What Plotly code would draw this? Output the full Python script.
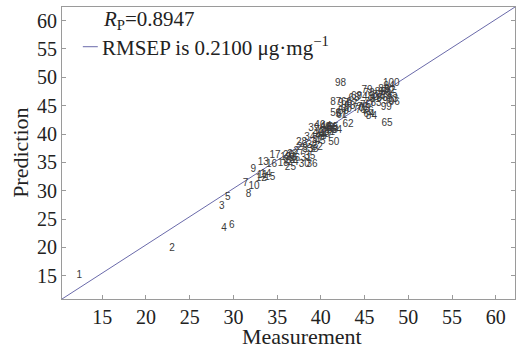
import plotly.graph_objects as go

sample_ids = list(range(1, 101))
measurement = [
    12.37, 22.99, 28.66, 28.92, 29.35, 29.80, 31.40, 31.74, 32.27, 32.35,
    33.30, 33.20, 33.41, 33.70, 34.17, 34.37, 34.75, 35.70, 36.00, 36.30,
    36.60, 36.80, 36.40, 36.83, 36.52, 37.00, 37.50, 37.79, 37.90, 38.10,
    38.30, 39.00, 38.50, 38.74, 38.74, 39.00, 39.60, 39.10, 39.20, 39.70,
    40.00, 40.20, 40.40, 40.60, 39.90, 39.88, 40.70, 41.00, 40.50, 41.48,
    41.00, 39.60, 41.30, 41.80, 41.40, 41.71, 42.30, 41.30, 42.60, 42.90,
    42.40, 43.11, 43.30, 45.50, 47.56, 42.93, 43.60, 43.80, 44.07, 44.30,
    44.60, 44.80, 45.00, 44.70, 45.10, 45.40, 45.60, 45.50, 45.28, 46.00,
    46.20, 46.50, 46.30, 45.78, 46.80, 47.00, 41.70, 47.20, 47.40, 47.70,
    47.50, 47.90, 48.20, 47.80, 48.10, 48.40, 42.60, 42.24, 47.49, 48.06,
]
prediction = [
    15.00, 19.76, 27.22, 23.40, 28.88, 23.82, 31.34, 29.40, 33.75, 30.74,
    32.60, 32.20, 35.04, 32.80, 32.28, 34.56, 36.28, 34.74, 35.80, 36.20,
    35.90, 36.40, 35.30, 35.00, 34.05, 35.70, 37.00, 38.50, 37.60, 34.70,
    35.60, 37.90, 37.30, 39.46, 36.04, 34.70, 38.90, 37.20, 41.00, 40.10,
    39.60, 40.30, 39.90, 41.40, 38.60, 41.45, 39.80, 40.90, 41.20, 38.50,
    40.30, 37.70, 40.70, 40.60, 41.10, 43.70, 43.50, 40.90, 43.90, 44.30,
    43.20, 41.76, 44.80, 43.50, 41.93, 45.60, 45.20, 46.30, 46.60, 44.50,
    44.10, 44.70, 44.30, 46.40, 45.00, 44.00, 45.60, 47.20, 47.69, 46.50,
    46.00, 46.80, 45.30, 43.10, 47.40, 46.30, 45.50, 47.90, 46.60, 45.70,
    47.30, 47.60, 46.10, 48.30, 47.00, 45.60, 45.40, 48.97, 44.60, 48.86,
]

x_range = [10.4, 62.2]
y_range = [10.9, 62.4]
x_ticks = [15, 20, 25, 30, 35, 40, 45, 50, 55, 60]
y_ticks = [15, 20, 25, 30, 35, 40, 45, 50, 55, 60]

rp_text = "<i>R</i><sub>P</sub>=0.8947"
rmsep_text = "RMSEP is 0.2100 μg·mg<sup>−1</sup>"

serif = "Liberation Serif"
line_color = "#6a6aaa"

fig = go.Figure()

fig.add_trace(go.Scatter(
    x=x_range, y=y_range, mode="lines",
    line=dict(color=line_color, width=1), showlegend=False, hoverinfo="skip",
))

fig.add_trace(go.Scatter(
    x=measurement, y=prediction, mode="text",
    text=[str(i) for i in sample_ids], textposition="middle center",
    textfont=dict(family="Liberation Sans", size=10, color="#3a3a3a"),
    showlegend=False,
))

axis_common = dict(
    showline=True, linecolor="#9a9a9a", linewidth=1,
    ticks="inside", ticklen=4, tickcolor="#9a9a9a",
    showgrid=False, zeroline=False,
    tickfont=dict(family=serif, size=20, color="#222"),
)

fig.update_xaxes(range=x_range, tickvals=x_ticks, mirror=True, **axis_common)
fig.update_yaxes(range=y_range, tickvals=y_ticks, mirror="ticks", **axis_common)

fig.add_annotation(xref="paper", yref="paper", x=0.087, y=0.955, xanchor="left",
                   yanchor="middle", text=rp_text, showarrow=False,
                   font=dict(family=serif, size=21, color="#222"))
fig.add_annotation(xref="paper", yref="paper", x=0.083, y=0.866, xanchor="left",
                   yanchor="middle", text=rmsep_text, showarrow=False,
                   font=dict(family=serif, size=21, color="#222"))
fig.add_shape(type="line", xref="paper", yref="paper", x0=0.046, x1=0.079,
              y0=0.864, y1=0.864, line=dict(color=line_color, width=1))

fig.add_annotation(xref="paper", yref="paper", x=0.53, y=-0.128, xanchor="center",
                   yanchor="middle", text="Measurement", showarrow=False,
                   font=dict(family=serif, size=22, color="#222"))
fig.add_annotation(xref="paper", yref="paper", x=-0.093, y=0.5, xanchor="center",
                   yanchor="middle", text="Prediction", showarrow=False, textangle=-90,
                   font=dict(family=serif, size=22, color="#222"))

fig.update_layout(
    width=526, height=350,
    margin=dict(l=62, r=11, t=7, b=51),
    paper_bgcolor="white", plot_bgcolor="white",
)

fig.write_html("out.html")
